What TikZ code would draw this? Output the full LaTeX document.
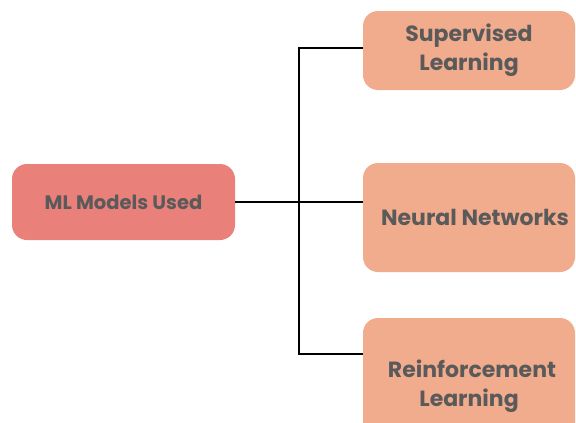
\documentclass[tikz,border=0pt]{standalone}
\usepackage{fontspec}
\setmainfont{Poppins}
\definecolor{ink}{HTML}{5A5A5A}
\definecolor{rootred}{HTML}{E98079}
\definecolor{peach}{HTML}{F1AC8D}

\begin{document}
\begin{tikzpicture}[x=1pt,y=-1pt,font=\bfseries,text=ink,
  box/.style={rounded corners=15pt,align=center,inner sep=0pt},
  wire/.style={black,line width=1.6pt}]
  \clip (0,0) rectangle (576,423);
  \fill[white] (0,0) rectangle (576,423);
  % root on the left
  \node[box,fill=rootred,minimum width=223pt,minimum height=76pt,font=\bfseries\fontsize{19.5}{24}\selectfont]
    (models) at (123.5,202) {ML Models Used};
  % branches on the right
  \node[box,fill=peach,minimum width=212pt,minimum height=79pt,font=\bfseries\fontsize{22}{29}\selectfont]
    (superv) at (469,50.5) {Supervised\\Learning};
  \node[box,fill=peach,minimum width=212pt,minimum height=109pt,font=\bfseries\fontsize{22}{29}\selectfont]
    (neural) at (469,217.5) {\hspace*{12pt}Neural Networks};
  \node[box,fill=peach,minimum width=212pt,minimum height=136pt,font=\bfseries\fontsize{22}{29}\selectfont]
    (reinf) at (469,386) {\hspace*{6pt}Reinforcement\\Learning};
  % tree connectors
  \draw[wire] (models.east) -- ++(64,0) coordinate (fork);
  \draw[wire] ([yshift=-37pt]superv.north west) -| (fork);
  \draw[wire] ([yshift=-36pt]reinf.north west) -| (fork);
  \draw[wire] (fork) |- ([yshift=-39pt]neural.north west);
\end{tikzpicture}
\end{document}
